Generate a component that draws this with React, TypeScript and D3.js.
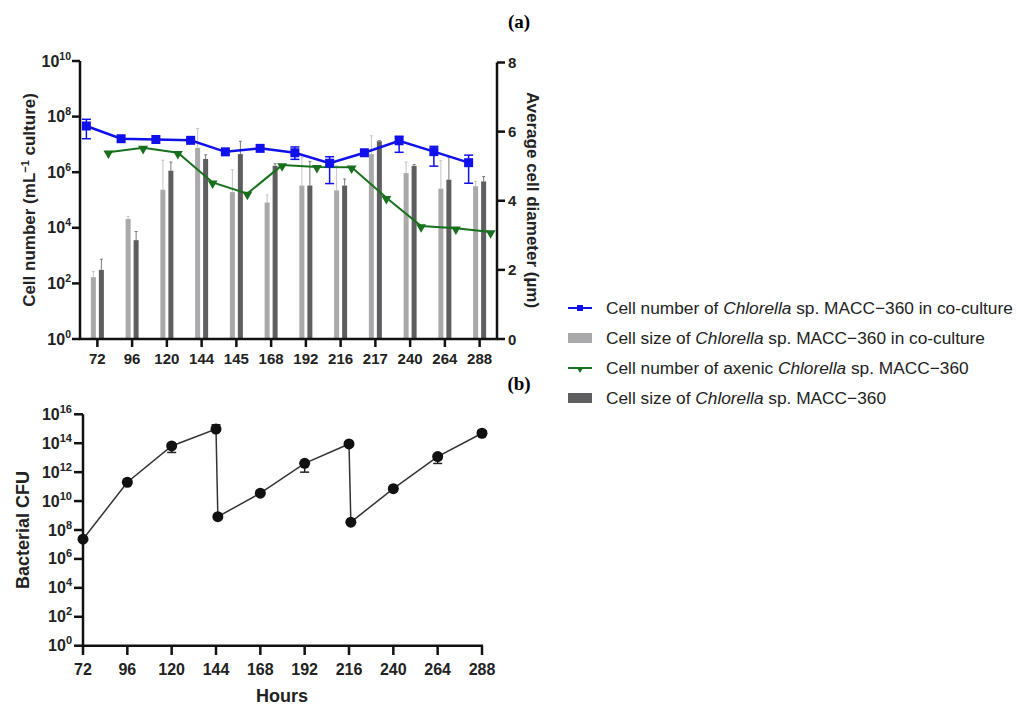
import React, { useEffect, useRef } from 'react'
import * as d3 from 'd3'

// panel (a): sampling times as categories
const hourCats = ['72', '96', '120', '144', '145', '168', '192', '216', '217', '240', '264', '288']

// cell number of Chlorella in co-culture (cells/mL) with error range
const coCount = [4.6e7, 1.6e7, 1.5e7, 1.4e7, 5.4e6, 7.2e6, 5.0e6, 2.1e6, 5.0e6, 1.35e7, 5.5e6, 2.2e6]
const coCountLo = [1.6e7, null, null, 1.25e7, null, null, 2.9e6, 3.9e5, null, 5.2e6, 1.65e6, 4.0e5]
const coCountHi = [8.0e7, null, null, 1.6e7, null, null, 8.1e6, 3.6e6, null, 1.96e7, 8.5e6, 4.1e6]

// cell number of axenic Chlorella
const axCount = [5.2e6, 7.6e6, 5.0e6, 4.3e5, 1.7e5, 1.8e6, 1.55e6, 1.5e6, 1.2e5, 1.15e4, 9.6e3, 7.0e3]

// average cell diameter (µm)
const coSize = [1.79, 3.47, 4.32, 5.53, 4.25, 3.95, 4.44, 4.3, 5.35, 4.8, 4.35, 4.42]
const coSizeSd = [0.16, 0.07, 0.85, 0.56, 0.65, 0.22, 0.82, 0.71, 0.53, 0.32, 0.81, 0.14]
const axSize = [2.0, 2.86, 4.87, 5.21, 5.35, 5.01, 4.44, 4.44, 5.72, 5.01, 4.61, 4.56]
const axSizeSd = [0.31, 0.25, 0.25, 0.12, 0.37, 0.06, 0.7, 0.19, 0.02, 0.04, 0.65, 0.14]

// panel (b): bacterial CFU
const cfuHours = [72, 96, 120, 144, 145, 168, 192, 216, 217, 240, 264, 288]
const cfu = [2.3e7, 2.0e11, 6.5e13, 9.5e14, 8.3e8, 3.5e10, 4.1e12, 8.9e13, 3.5e8, 7.2e10, 1.2e13, 4.9e14]
const cfuLo = [null, null, 2.3e13, null, null, null, 1.0e12, null, null, null, 4.0e12, null]
const cfuHi = [null, null, null, 1.9e15, null, null, null, null, null, null, null, 7.4e14]
const cfuTicks = [72, 96, 120, 144, 168, 192, 216, 240, 264, 288]

const logTicksA = [0, 2, 4, 6, 8, 10]
const logTicksB = [0, 2, 4, 6, 8, 10, 12, 14, 16]
const sizeTicks = [0, 2, 4, 6, 8]

const legendItems = [
	{ kind: 'blue', pre: 'Cell number of ', post: ' sp. MACC\u2212360 in co-culture' },
	{ kind: 'light', pre: 'Cell size of ', post: ' sp. MACC\u2212360 in co-culture' },
	{ kind: 'green', pre: 'Cell number of axenic ', post: ' sp. MACC\u2212360' },
	{ kind: 'dark', pre: 'Cell size of ', post: ' sp. MACC\u2212360' },
]

const FONT = '"Liberation Sans", Arial, sans-serif'
const BLUE = '#1010ea'
const GREEN = '#17701c'
const LIGHT = '#a9a9ab'
const DARK = '#5e5e60'

const App = () => {
	const ref = useRef(null)

	useEffect(() => {
		const svg = d3.select(ref.current)
		svg.selectAll('*').remove()
		svg.attr('font-family', FONT)

		// ---------- panel (a) ----------
		const x = d3.scaleBand().domain(hourCats).range([80, 497])
		const cx = i => x(hourCats[i]) + x.bandwidth() / 2
		const yL = d3.scaleLog().domain([1, 1e10]).range([339, 61])
		const yR = d3.scaleLinear().domain([0, 8]).range([339, 62.5])

		const gA = svg.append('g')

		// bars + error lines
		const drawBars = (vals, sds, off, fill, errCol) => {
			vals.forEach((v, i) => {
				const x0 = cx(i) + off
				gA.append('rect')
					.attr('x', x0 - 2.5).attr('y', yR(v))
					.attr('width', 5).attr('height', yR(0) - yR(v))
					.attr('fill', fill)
				const top = yR(v + sds[i])
				gA.append('line').attr('x1', x0).attr('x2', x0)
					.attr('y1', yR(v)).attr('y2', top)
					.attr('stroke', errCol).attr('stroke-width', 1)
				gA.append('line').attr('x1', x0 - 1.5).attr('x2', x0 + 1.5)
					.attr('y1', top).attr('y2', top)
					.attr('stroke', errCol).attr('stroke-width', 1)
			})
		}
		drawBars(coSize, coSizeSd, -4, LIGHT, '#c4c4c4')
		drawBars(axSize, axSizeSd, 4, DARK, '#7a7a7a')

		// green line (axenic)
		const lineG = d3.line().x((d, i) => cx(i) + 11).y(d => yL(d))
		gA.append('path').attr('d', lineG(axCount))
			.attr('fill', 'none').attr('stroke', GREEN).attr('stroke-width', 2)
		const tri = d3.symbol().type(d3.symbolTriangle).size(42)
		axCount.forEach((v, i) => {
			gA.append('path').attr('d', tri())
				.attr('transform', `translate(${cx(i) + 11},${yL(v) + 1}) rotate(180)`)
				.attr('fill', GREEN)
		})

		// blue line (co-culture)
		const lineB = d3.line().x((d, i) => cx(i) - 11).y(d => yL(d))
		coCount.forEach((v, i) => {
			if (coCountLo[i] == null) return
			const xx = cx(i) - 11
			const lo = yL(coCountLo[i]), hi = yL(coCountHi[i])
			gA.append('line').attr('x1', xx).attr('x2', xx).attr('y1', lo).attr('y2', hi)
				.attr('stroke', BLUE).attr('stroke-width', 1.5)
			;[lo, hi].forEach(yy => gA.append('line')
				.attr('x1', xx - 4.5).attr('x2', xx + 4.5).attr('y1', yy).attr('y2', yy)
				.attr('stroke', BLUE).attr('stroke-width', 1.5))
		})
		gA.append('path').attr('d', lineB(coCount))
			.attr('fill', 'none').attr('stroke', BLUE).attr('stroke-width', 2.5)
		coCount.forEach((v, i) => {
			gA.append('rect')
				.attr('x', cx(i) - 11 - 4.5).attr('y', yL(v) - 4.5)
				.attr('width', 9).attr('height', 9).attr('fill', BLUE)
		})

		// axes (a)
		const axisCol = '#111'
		gA.append('line').attr('x1', 80).attr('x2', 80).attr('y1', 61).attr('y2', 339)
			.attr('stroke', axisCol).attr('stroke-width', 2.5)
		gA.append('line').attr('x1', 497).attr('x2', 497).attr('y1', 62.5).attr('y2', 339)
			.attr('stroke', axisCol).attr('stroke-width', 2.5)
		gA.append('line').attr('x1', 79).attr('x2', 498).attr('y1', 339).attr('y2', 339)
			.attr('stroke', axisCol).attr('stroke-width', 2.5)

		logTicksA.forEach(k => {
			const yy = yL(Math.pow(10, k))
			gA.append('line').attr('x1', 72).attr('x2', 80).attr('y1', yy).attr('y2', yy)
				.attr('stroke', axisCol).attr('stroke-width', 2.5)
			const t = gA.append('text').attr('x', 71).attr('y', yy + 5.5)
				.attr('text-anchor', 'end').attr('font-weight', 'bold').attr('font-size', 16)
				.attr('fill', '#222')
			t.append('tspan').text('10')
			t.append('tspan').attr('dy', -7).attr('font-size', 10.5).text(String(k))
		})
		sizeTicks.forEach(v => {
			const yy = yR(v)
			gA.append('line').attr('x1', 497).attr('x2', 505).attr('y1', yy).attr('y2', yy)
				.attr('stroke', axisCol).attr('stroke-width', 2.5)
			gA.append('text').attr('x', 508).attr('y', yy + 5.5)
				.attr('font-weight', 'bold').attr('font-size', 15).attr('fill', '#222')
				.text(String(v))
		})
		hourCats.forEach((c, i) => {
			gA.append('line').attr('x1', cx(i)).attr('x2', cx(i)).attr('y1', 339).attr('y2', 347)
				.attr('stroke', axisCol).attr('stroke-width', 2.5)
			gA.append('text').attr('x', cx(i)).attr('y', 364)
				.attr('text-anchor', 'middle').attr('font-weight', 'bold').attr('font-size', 15)
				.attr('fill', '#222').text(c)
		})

		const titleL = gA.append('text')
			.attr('transform', 'translate(35,200) rotate(-90)')
			.attr('text-anchor', 'middle').attr('font-weight', 'bold').attr('font-size', 17)
			.attr('fill', '#222')
		titleL.append('tspan').text('Cell number (mL')
		titleL.append('tspan').attr('dy', -6).attr('font-size', 11).text('\u22121')
		titleL.append('tspan').attr('dy', 6).text(' culture)')

		gA.append('text')
			.attr('transform', 'translate(527,200) rotate(90)')
			.attr('text-anchor', 'middle').attr('font-weight', 'bold').attr('font-size', 17)
			.attr('fill', '#222').text('Average cell diameter (\u00b5m)')

		// legend
		legendItems.forEach((it, i) => {
			const yy = 308 + i * 30
			const g = svg.append('g')
			if (it.kind === 'blue' || it.kind === 'green') {
				const col = it.kind === 'blue' ? BLUE : GREEN
				g.append('line').attr('x1', 568).attr('x2', 592).attr('y1', yy).attr('y2', yy)
					.attr('stroke', col).attr('stroke-width', 2)
				if (it.kind === 'blue') {
					g.append('rect').attr('x', 577).attr('y', yy - 3).attr('width', 6).attr('height', 6)
						.attr('fill', col)
				} else {
					g.append('path').attr('d', d3.symbol().type(d3.symbolTriangle).size(22)())
						.attr('transform', `translate(580,${yy + 1}) rotate(180)`).attr('fill', col)
				}
			} else {
				g.append('rect').attr('x', 568).attr('y', yy - 5).attr('width', 24).attr('height', 10)
					.attr('fill', it.kind === 'light' ? LIGHT : DARK)
			}
			const t = g.append('text').attr('x', 606).attr('y', yy + 6)
				.attr('font-size', 17.3).attr('fill', '#222')
			t.append('tspan').text(it.pre)
			t.append('tspan').attr('font-style', 'italic').text('Chlorella')
			t.append('tspan').text(it.post)
		})

		// ---------- panel (b) ----------
		const gB = svg.append('g')
		const xb = d3.scaleLinear().domain([72, 288]).range([83, 482])
		const yb = d3.scaleLog().domain([1, 1e16]).range([645.7, 414.3])

		cfu.forEach((v, i) => {
			const xx = xb(cfuHours[i])
			;[cfuLo[i], cfuHi[i]].forEach(e => {
				if (e == null) return
				gB.append('line').attr('x1', xx).attr('x2', xx).attr('y1', yb(v)).attr('y2', yb(e))
					.attr('stroke', '#222').attr('stroke-width', 1.5)
				gB.append('line').attr('x1', xx - 4.5).attr('x2', xx + 4.5)
					.attr('y1', yb(e)).attr('y2', yb(e))
					.attr('stroke', '#222').attr('stroke-width', 1.5)
			})
		})
		const lineC = d3.line().x((d, i) => xb(cfuHours[i])).y(d => yb(d))
		gB.append('path').attr('d', lineC(cfu))
			.attr('fill', 'none').attr('stroke', '#333').attr('stroke-width', 1.5)
		cfu.forEach((v, i) => {
			gB.append('circle').attr('cx', xb(cfuHours[i])).attr('cy', yb(v)).attr('r', 5.5)
				.attr('fill', '#111')
		})

		gB.append('line').attr('x1', 83).attr('x2', 83).attr('y1', 414.3).attr('y2', 645.7)
			.attr('stroke', axisCol).attr('stroke-width', 2.5)
		gB.append('line').attr('x1', 82).attr('x2', 483).attr('y1', 645.7).attr('y2', 645.7)
			.attr('stroke', axisCol).attr('stroke-width', 2.5)
		logTicksB.forEach(k => {
			const yy = yb(Math.pow(10, k))
			gB.append('line').attr('x1', 74).attr('x2', 83).attr('y1', yy).attr('y2', yy)
				.attr('stroke', axisCol).attr('stroke-width', 2.5)
			const t = gB.append('text').attr('x', 72).attr('y', yy + 5.5)
				.attr('text-anchor', 'end').attr('font-weight', 'bold').attr('font-size', 16)
				.attr('fill', '#222')
			t.append('tspan').text('10')
			t.append('tspan').attr('dy', -7).attr('font-size', 11).text(String(k))
		})
		cfuTicks.forEach(h => {
			gB.append('line').attr('x1', xb(h)).attr('x2', xb(h)).attr('y1', 645.7).attr('y2', 655)
				.attr('stroke', axisCol).attr('stroke-width', 2.5)
			gB.append('text').attr('x', xb(h)).attr('y', 675)
				.attr('text-anchor', 'middle').attr('font-weight', 'bold').attr('font-size', 16)
				.attr('fill', '#222').text(String(h))
		})
		gB.append('text').attr('x', 282).attr('y', 702)
			.attr('text-anchor', 'middle').attr('font-weight', 'bold').attr('font-size', 18)
			.attr('fill', '#222').text('Hours')
		gB.append('text')
			.attr('transform', 'translate(29,530) rotate(-90)')
			.attr('text-anchor', 'middle').attr('font-weight', 'bold').attr('font-size', 18)
			.attr('fill', '#222').text('Bacterial CFU')

		// panel labels
		svg.append('text').attr('x', 519).attr('y', 28).attr('text-anchor', 'middle')
			.attr('font-family', '"Liberation Serif", "Times New Roman", serif')
			.attr('font-weight', 'bold').attr('font-size', 19).text('(a)')
		svg.append('text').attr('x', 519).attr('y', 390).attr('text-anchor', 'middle')
			.attr('font-family', '"Liberation Serif", "Times New Roman", serif')
			.attr('font-weight', 'bold').attr('font-size', 19).text('(b)')
	}, [])

	return (
		<svg
			ref={ref}
			width={1029}
			height={706}
			style={{ position: 'absolute', left: 0, top: 0, background: '#fff' }}
		/>
	)
}

export default App
